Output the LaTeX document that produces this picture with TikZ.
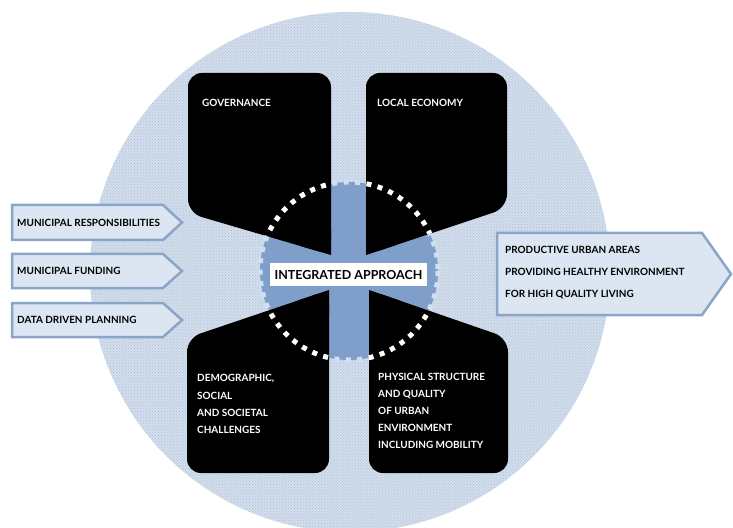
\documentclass[tikz,border=0pt]{standalone}
\usepackage{fontspec}
\setmainfont{Lato}
\usetikzlibrary{patterns}
\definecolor{dotbg}{HTML}{D3DEEC}
\definecolor{dotfg}{HTML}{A9BCD5}
\definecolor{gearblue}{HTML}{7F9ECA}
\definecolor{toothblue}{HTML}{CFE0F4}
\definecolor{arrowfill}{HTML}{DCE6F2}
\definecolor{arrowedge}{HTML}{8AA5C7}
\tikzset{
  blob/.style={fill=black, rounded corners=14},
  flowarrow/.style={fill=arrowfill, draw=arrowedge, line width=2.5bp, line join=miter},
  blobtext/.style={text=white, anchor=west, align=left, inner sep=0pt, font=\fontsize{10}{17.2}\selectfont\bfseries},
  arrowtext/.style={text=black, anchor=west, align=left, inner sep=0pt, font=\fontsize{10}{22.5}\selectfont\bfseries},
}
\begin{document}
\begin{tikzpicture}[x=1bp,y=-1bp]
\useasboundingbox (0,0) rectangle (733,528);
% big dotted disc
\begin{scope}
  \clip (0,0) rectangle (733,528);
  \fill[dotbg] (350,272) circle[radius=260];
  \fill[pattern=crosshatch dots, pattern color=dotfg] (350,272) circle[radius=260];
\end{scope}
% gear disc
\fill[gearblue] (349,271) circle[radius=89];
\draw[toothblue, line width=5bp, dash pattern=on 5bp off 6.5bp] (349,271) circle[radius=89];
% black blobs
\fill[blob] (188,73) -- (331,73) -- (331,255) -- (188,213) -- cycle;
\fill (331,230) -- (331,255) -- (300,245.9) -- cycle;
\fill[blob] (366,73) -- (507,73) -- (507,208) -- (366,255) -- cycle;
\fill (366,230) -- (366,255) -- (397,244.7) -- cycle;
\fill[blob] (187,338) -- (329,290) -- (329,473) -- (187,473) -- cycle;
\fill (329,315) -- (329,290) -- (298,300.5) -- cycle;
\fill[blob] (369,290) -- (508,338) -- (508,473) -- (369,473) -- cycle;
\fill (369,315) -- (369,290) -- (400,300.7) -- cycle;
% white squares of the ring over the blobs
\begin{scope}
  \clip (188,73) -- (331,73) -- (331,255) -- (188,213) -- cycle
        (366,73) -- (507,73) -- (507,208) -- (366,255) -- cycle
        (187,338) -- (329,290) -- (329,473) -- (187,473) -- cycle
        (369,290) -- (508,338) -- (508,473) -- (369,473) -- cycle;
  \draw[white, line width=5bp, dash pattern=on 5bp off 6.5bp] (349,271) circle[radius=89];
\end{scope}
% left arrows
\path[flowarrow] (12,205) -- (163,205) -- (182,222.5) -- (163,240) -- (12,240) -- cycle;
\path[flowarrow] (12,254) -- (163,254) -- (182,271) -- (163,288) -- (12,288) -- cycle;
\path[flowarrow] (12,303) -- (163,303) -- (182,320) -- (163,337) -- (12,337) -- cycle;
\node[arrowtext] (resp) at (17,222.5) {MUNICIPAL RESPONSIBILITIES};
\node[arrowtext] (fund) at (17,271) {MUNICIPAL FUNDING};
\node[arrowtext] (data) at (17,320) {DATA DRIVEN PLANNING};
% right arrow
\path[flowarrow] (497,233) -- (702,233) -- (731,274) -- (702,315) -- (497,315) -- cycle;
\node[arrowtext] (result) at (505,272.5) {PRODUCTIVE URBAN AREAS\\PROVIDING HEALTHY ENVIRONMENT\\FOR HIGH QUALITY LIVING};
% blob texts
\node[blobtext] (gov) at (202,103) {GOVERNANCE};
\node[blobtext] (econ) at (377,103) {LOCAL ECONOMY};
\node[blobtext] (demo) at (197,404) {DEMOGRAPHIC,\\SOCIAL\\AND SOCIETAL\\CHALLENGES};
\node[blobtext] (phys) at (378,411) {PHYSICAL STRUCTURE\\AND QUALITY\\OF URBAN\\ENVIRONMENT\\INCLUDING MOBILITY};
% centre label
\node[fill=white, text=black, minimum width=157bp, minimum height=23bp, inner sep=0pt,
      font=\fontsize{12.5}{14}\selectfont\bfseries] (core) at (348.5,274.5) {INTEGRATED APPROACH};
\end{tikzpicture}
\end{document}
